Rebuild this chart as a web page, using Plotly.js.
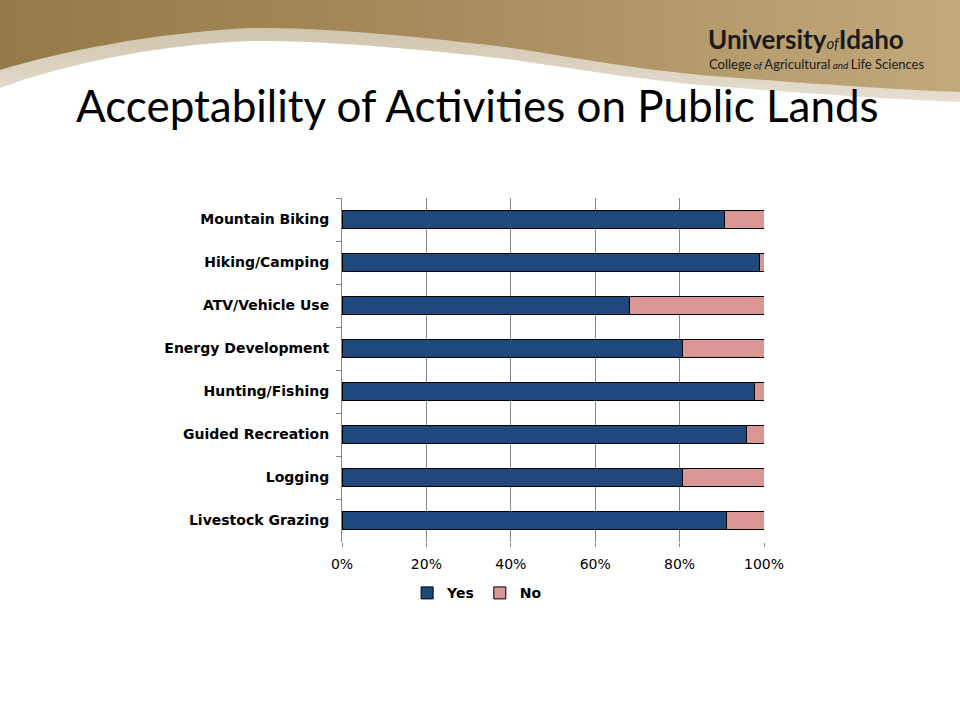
<!DOCTYPE html>
<html>
<head>
<meta charset="utf-8">
<script src="https://cdn.plot.ly/plotly-3.0.1.min.js"></script>
<style>
  html, body { margin: 0; padding: 0; background: #fff; }
  #chart { width: 960px; height: 720px; }
  #chart .annotation-text { font-variant-ligatures: none; }
</style>
</head>
<body>
<div id="chart"></div>
<script>
var activities = ['Mountain Biking', 'Hiking/Camping', 'ATV/Vehicle Use', 'Energy Development',
  'Hunting/Fishing', 'Guided Recreation', 'Logging', 'Livestock Grazing'];
var yesShare = [0.906, 0.989, 0.681, 0.806, 0.977, 0.958, 0.806, 0.911];
var noShare = [0.094, 0.011, 0.319, 0.194, 0.023, 0.042, 0.194, 0.089];
var xTicks = [0, 0.2, 0.4, 0.6, 0.8, 1];

// header swoosh drawn as an svg picture behind everything
var header = '<svg xmlns="http://www.w3.org/2000/svg" width="960" height="140" viewBox="0 0 960 140">' +
  '<defs>' +
  '<linearGradient id="tan" x1="0" y1="0" x2="1" y2="0">' +
  '<stop offset="0" stop-color="#957948"/><stop offset="0.45" stop-color="#a78b5c"/>' +
  '<stop offset="1" stop-color="#c1a97b"/></linearGradient>' +
  '<linearGradient id="pale" x1="0" y1="0" x2="0" y2="1">' +
  '<stop offset="0" stop-color="#cfc3ab"/><stop offset="1" stop-color="#e6dfd2"/></linearGradient>' +
  '</defs>' +
  '<path fill="url(#pale)" d="M0,62 C60,48 150,30 250,26 C300,24 380,28 480,40 C550,48 600,60 700,70 C800,78 900,84 960,86 L960,102 C900,100 800,93 700,85 C600,75 540,62 480,56 C380,45 300,40 250,41 C150,45 60,66 0,88 Z"/>' +
  '<path fill="url(#tan)" d="M0,0 L960,0 L960,92 C900,90 800,83 700,75 C600,65 550,52 480,44 C380,32 300,27 250,28 C150,33 60,52 0,70 Z"/>' +
  '</svg>';

var yesTrace = {
  type: 'bar',
  orientation: 'h',
  name: 'Yes',
  y: activities,
  x: yesShare,
  marker: { color: '#1F497D', line: { color: '#000000', width: 1 } },
  hoverinfo: 'none'
};

var noTrace = {
  type: 'bar',
  orientation: 'h',
  name: 'No',
  y: activities,
  x: noShare,
  marker: { color: '#D99694', line: { color: '#000000', width: 1 } },
  hoverinfo: 'none'
};

var layout = {
  width: 960,
  height: 720,
  margin: { l: 0, r: 0, t: 0, b: 0, pad: 0 },
  paper_bgcolor: '#ffffff',
  plot_bgcolor: 'rgba(0,0,0,0)',
  barmode: 'stack',
  bargap: 0.6,
  showlegend: true,
  legend: {
    orientation: 'h',
    traceorder: 'normal',
    x: 0.497,
    xanchor: 'center',
    y: 0.176,
    yanchor: 'middle',
    itemwidth: 30,
    font: { family: 'DejaVu Sans', size: 14, color: '#000000', weight: 'bold' }
  },
  xaxis: {
    domain: [342 / 960, 764 / 960],
    range: [0, 1],
    tickvals: xTicks,
    tickformat: '.0%',
    showgrid: true,
    gridcolor: '#868686',
    gridwidth: 1,
    zeroline: false,
    showline: false,
    ticks: 'outside',
    ticklen: 4,
    tickcolor: '#868686',
    ticklabelstandoff: 5,
    tickfont: { family: 'DejaVu Sans', size: 14, color: '#000000' },
    fixedrange: true
  },
  yaxis: {
    domain: [1 - 542 / 720, 1 - 198 / 720],
    autorange: 'reversed',
    showgrid: false,
    zeroline: false,
    showline: true,
    linecolor: '#868686',
    linewidth: 1,
    ticks: 'outside',
    tickson: 'boundaries',
    ticklen: 5,
    tickcolor: '#868686',
    ticklabelstandoff: 9,
    tickfont: { family: 'DejaVu Sans', size: 14, color: '#000000', weight: 'bold' },
    fixedrange: true
  },
  images: [{
    source: 'data:image/svg+xml;charset=utf-8,' + encodeURIComponent(header),
    xref: 'paper', yref: 'paper',
    x: 0, y: 1,
    sizex: 1, sizey: 140 / 720,
    xanchor: 'left', yanchor: 'top',
    sizing: 'stretch',
    layer: 'below'
  }],
  annotations: [
    {
      xref: 'paper', yref: 'paper',
      x: 74 / 960, y: 1 - 105 / 720,
      xanchor: 'left', yanchor: 'middle',
      text: 'Acceptability of Activities on Public Lands',
      showarrow: false,
      font: { family: 'Lato', size: 44, color: '#000000' }
    },
    {
      xref: 'paper', yref: 'paper',
      x: 706 / 960, y: 1 - 39 / 720,
      xanchor: 'left', yanchor: 'middle',
      text: '<b>University</b><i><span style="font-size:15px">of</span></i><b>Idaho</b>',
      showarrow: false,
      font: { family: 'Lato', size: 26, color: '#1a1a1a' }
    },
    {
      xref: 'paper', yref: 'paper',
      x: 707 / 960, y: 1 - 64 / 720,
      xanchor: 'left', yanchor: 'middle',
      text: 'College<i><span style="font-size:10px"> of </span></i>Agricultural<i><span style="font-size:10px"> and </span></i>Life Sciences',
      showarrow: false,
      font: { family: 'Lato', size: 13, color: '#1a1a1a' }
    }
  ]
};

Plotly.newPlot('chart', [yesTrace, noTrace], layout, { staticPlot: true, displayModeBar: false });
</script>
</body>
</html>
